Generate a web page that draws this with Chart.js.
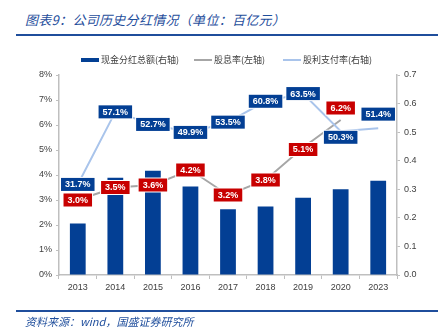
<!DOCTYPE html>
<html>
<head>
<meta charset="utf-8">
<script src="https://cdn.jsdelivr.net/npm/chart.js@4"></script>
<style>
  body { margin: 0; background: #fff; font-family: "Noto Sans CJK SC", sans-serif; }
  #wrap { position: relative; width: 448px; height: 336px; overflow: hidden; }
  #title { position: absolute; left: 25px; top: 10px; font-size: 13px; font-style: italic; color: #1f4e9c; white-space: nowrap; letter-spacing: 0.3px; }
  .rule { position: absolute; left: 16px; width: 422px; height: 2px; background: #1f4e9c; }
  #source { position: absolute; left: 25px; top: 313px; font-size: 11px; font-style: italic; color: #1f4e9c; white-space: nowrap; }
  #chart { position: absolute; left: 0; top: 0; }
</style>
</head>
<body>
<div id="wrap">
  <div id="title">图表9：公司历史分红情况（单位：百亿元）</div>
  <div class="rule" style="top:34px"></div>
  <canvas id="chart" width="448" height="336"></canvas>
  <div class="rule" style="top:310px"></div>
  <div id="source">资料来源：wind，国盛证券研究所</div>
</div>
<script>
// Chart data
const years = ['2013', '2014', '2015', '2016', '2017', '2018', '2019', '2020', '2023'];
const cashDividend = [0.18, 0.34, 0.365, 0.31, 0.23, 0.24, 0.27, 0.30, 0.33];   // 百亿元, right axis
const dividendYield = [3.0, 3.5, 3.6, 4.2, 3.2, 3.8, 5.1, 6.2, null];           // %, left axis
const payoutRatio = [31.7, 57.1, 52.7, 49.9, 53.5, 60.8, 63.5, 50.3, 51.4];     // %, right axis
const leftTicks = [0, 1, 2, 3, 4, 5, 6, 7, 8];
const rightTicks = [0, 0.1, 0.2, 0.3, 0.4, 0.5, 0.6, 0.7];

// Label nudges (pixels), kept apart from the values
const yieldLabelShift = [0, 0, 0, 0, 0, 0, 2, -12, 0];
const payoutLabelShift = [0, 0, 0, 0, 0, 0, 0, 6, -14];

const BLUE = '#033f94';
const RED = '#c80000';

// Draw boxed value labels on the line series
const boxLabels = {
    id: 'boxLabels',
    afterDatasetsDraw(chart) {
        const ctx = chart.ctx;
        ctx.save();
        ctx.font = 'bold 9px "Liberation Sans", Arial, sans-serif';
        ctx.textAlign = 'center';
        ctx.textBaseline = 'middle';
        chart.data.datasets.forEach((ds, i) => {
            if (!ds.boxColor) return;
            const meta = chart.getDatasetMeta(i);
            meta.data.forEach((pt, j) => {
                const raw = ds.shown[j];
                if (raw == null) return;
                const text = raw.toFixed(1) + '%';
                const w = ctx.measureText(text).width + 8;
                const h = 13;
                const x = pt.x;
                const y = pt.y + ds.shift[j];
                ctx.fillStyle = '#ffffff';
                ctx.fillRect(x - w / 2 - 1, y - h / 2 - 1, w + 2, h + 2);
                ctx.fillStyle = ds.boxColor;
                ctx.fillRect(x - w / 2, y - h / 2, w, h);
                ctx.fillStyle = '#ffffff';
                ctx.fillText(text, x, y + 0.5);
            });
        });
        ctx.restore();
    }
};

new Chart(document.getElementById('chart'), {
    data: {
        labels: years,
        datasets: [
            {
                type: 'line',
                label: '股息率(左轴)',
                data: dividendYield,
                yAxisID: 'yL',
                borderColor: '#a6a6a6',
                backgroundColor: '#a6a6a6',
                borderWidth: 2,
                pointRadius: 0,
                tension: 0,
                order: 1,
                boxColor: RED,
                shown: dividendYield,
                shift: yieldLabelShift
            },
            {
                type: 'line',
                label: '股利支付率(右轴)',
                data: payoutRatio.map(v => v / 100),
                yAxisID: 'yR',
                borderColor: '#a9c4eb',
                backgroundColor: '#a9c4eb',
                borderWidth: 2,
                pointRadius: 0,
                tension: 0,
                order: 0,
                boxColor: BLUE,
                shown: payoutRatio,
                shift: payoutLabelShift
            },
            {
                type: 'bar',
                label: '现金分红总额(右轴)',
                data: cashDividend,
                yAxisID: 'yR',
                backgroundColor: BLUE,
                barPercentage: 0.42,
                categoryPercentage: 1,
                order: 2
            }
        ]
    },
    options: {
        responsive: false,
        animation: false,
        layout: { padding: { top: 75, bottom: 36, left: 0, right: 0 } },
        plugins: {
            legend: { display: false },
            tooltip: { enabled: false }
        },
        scales: {
            x: {
                offset: true,
                grid: { offset: true, drawOnChartArea: false, tickLength: 4, color: '#bfbfbf' },
                border: { color: '#bfbfbf', width: 1.5 },
                ticks: { color: '#404040', font: { size: 9, family: 'Liberation Sans' }, padding: 3 },
                afterFit(s) { s.height = 25; }
            },
            yL: {
                position: 'left',
                min: 0, max: 8,
                afterBuildTicks(s) { s.ticks = leftTicks.map(v => ({ value: v })); },
                grid: { drawOnChartArea: false, tickLength: 3, color: '#bfbfbf' },
                border: { color: '#bfbfbf', width: 1.5 },
                ticks: { color: '#404040', font: { size: 9, family: 'Liberation Sans' }, padding: 4, callback: v => v + '%' },
                afterFit(s) { s.width = 59; }
            },
            yR: {
                position: 'right',
                min: 0, max: 0.7,
                afterBuildTicks(s) { s.ticks = rightTicks.map(v => ({ value: v })); },
                grid: { drawOnChartArea: false, tickLength: 3, color: '#bfbfbf' },
                border: { color: '#bfbfbf', width: 1.5 },
                ticks: { color: '#404040', font: { size: 9, family: 'Liberation Sans' }, padding: 4, callback: v => v.toFixed(1) },
                afterFit(s) { s.width = 51; }
            }
        }
    },
    plugins: [boxLabels]
});

// Legend, drawn in page from dataset labels
const legendItems = [
    { text: '现金分红总额(右轴)', color: BLUE, h: 4, x: 81 },
    { text: '股息率(左轴)', color: '#a6a6a6', h: 2, x: 194 },
    { text: '股利支付率(右轴)', color: '#a9c4eb', h: 2, x: 283 }
];
const wrap = document.getElementById('wrap');
legendItems.forEach(it => {
    const sw = document.createElement('div');
    sw.style.cssText = `position:absolute;left:${it.x}px;top:${60 - it.h / 2}px;width:18px;height:${it.h}px;background:${it.color}`;
    wrap.appendChild(sw);
    const tx = document.createElement('div');
    tx.textContent = it.text;
    tx.style.cssText = `position:absolute;left:${it.x + 20}px;top:53px;font-size:9px;line-height:14px;color:#404040;white-space:nowrap`;
    wrap.appendChild(tx);
});
</script>
</body>
</html>
